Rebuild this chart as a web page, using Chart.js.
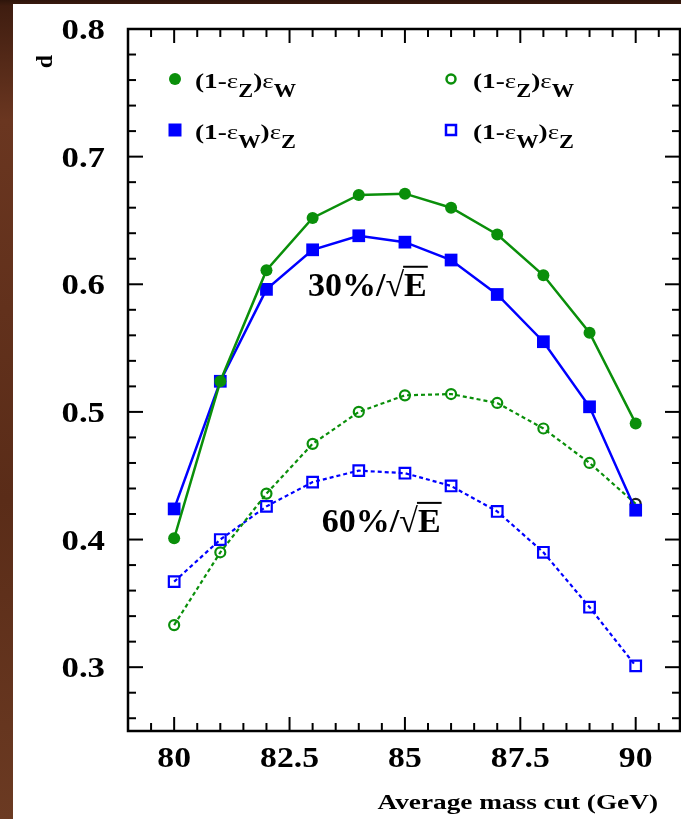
<!doctype html>
<html lang="en">
<head>
<meta charset="utf-8">
<title>d vs average mass cut</title>
<style>
  html, body { margin: 0; padding: 0; }
  body {
    width: 681px; height: 819px; position: relative; overflow: hidden;
    background: linear-gradient(to bottom, #2e150b 0px, #3f1d10 6px, #6a3620 120px, #5a2c18 500px, #6b3a22 819px);
  }
  #panel { position: absolute; left: 13px; top: 4px; right: 0; bottom: 0; background: #fff; }
  #chart { position: absolute; left: 0; top: 0; }
</style>
</head>
<body>
<div id="panel"></div>
<canvas id="chart" width="681" height="819"></canvas>

<script src="https://cdn.jsdelivr.net/npm/chart.js@4"></script>
<script>
  // mass cut points (GeV)
  const massCut = [80, 81, 82, 83, 84, 85, 86, 87, 88, 89, 90];

  // 30%/sqrt(E) resolution
  const d30_EzEw = [0.401, 0.524, 0.611, 0.652, 0.670, 0.671, 0.660, 0.639, 0.607, 0.562, 0.491];
  const d30_EwEz = [0.424, 0.524, 0.596, 0.627, 0.638, 0.633, 0.619, 0.592, 0.555, 0.504, 0.423];

  // 60%/sqrt(E) resolution
  const d60_EzEw = [0.333, 0.390, 0.436, 0.475, 0.500, 0.513, 0.514, 0.507, 0.487, 0.460, 0.428];
  const d60_EwEz = [0.367, 0.400, 0.426, 0.445, 0.454, 0.452, 0.442, 0.422, 0.390, 0.347, 0.301];

  const xTickValues = [80, 82.5, 85, 87.5, 90];
  const yTickValues = [0.3, 0.4, 0.5, 0.6, 0.7, 0.8];

  const GREEN = '#0a8f0a';
  const BLUE = '#0000ff';
  const SERIF = "'Liberation Serif', 'Times New Roman', serif";

  const pts = arr => massCut.map((m, i) => ({ x: m, y: arr[i] }));

  // text stretched horizontally like the old ROOT export
  function wideText(ctx, txt, x, y, align, sx) {
    ctx.save();
    ctx.translate(x, y);
    ctx.scale(sx, 1);
    ctx.textAlign = align;
    ctx.fillText(txt, 0, 0);
    ctx.restore();
  }

  // inward ticks on all four sides + frame, ROOT style
  const frameTicks = {
    id: 'frameTicks',
    afterDatasetsDraw(chart) {
      const { ctx, chartArea: a, scales: { x, y } } = chart;
      ctx.save();
      ctx.strokeStyle = '#000';
      ctx.lineWidth = 2;
      const seg = (x1, y1, x2, y2) => { ctx.beginPath(); ctx.moveTo(x1, y1); ctx.lineTo(x2, y2); ctx.stroke(); };
      for (let k = 0; k <= 23; k++) {
        const px = x.getPixelForValue(79 + k * 0.5);
        const len = (k - 2) % 5 === 0 ? 14 : 8;
        seg(px, a.bottom, px, a.bottom - len);
        seg(px, a.top, px, a.top + len);
      }
      for (let k = 13; k <= 40; k++) {
        const py = y.getPixelForValue(k * 0.02);
        const len = k % 5 === 0 ? 15 : 8;
        seg(a.left, py, a.left + len, py);
        seg(a.right, py, a.right - len, py);
      }
      ctx.lineWidth = 2.5;
      ctx.strokeRect(a.left, a.top, a.width, a.height);

      // tick labels
      ctx.fillStyle = '#000';
      ctx.textBaseline = 'alphabetic';
      ctx.font = 'bold 29px ' + SERIF;
      for (const v of xTickValues) {
        wideText(ctx, String(v), x.getPixelForValue(v), a.bottom + 36, 'center', 1.16);
      }
      for (const v of yTickValues) {
        wideText(ctx, v.toFixed(1), a.left - 23, y.getPixelForValue(v) + 10, 'right', 1.2);
      }
      ctx.restore();
    }
  };

  // writes "(1-ε_a)ε_b" with bold subscripts
  function drawRich(ctx, x, y, a, b) {
    const parts = [
      ['(1-', 'bold 22px ' + SERIF, 0],
      ['ε', '22px ' + SERIF, 0],
      [a, 'bold 18px ' + SERIF, 9],
      [')', 'bold 22px ' + SERIF, 0],
      ['ε', '22px ' + SERIF, 0],
      [b, 'bold 18px ' + SERIF, 9]
    ];
    ctx.save();
    ctx.translate(x, y);
    ctx.scale(1.24, 1);
    let cx = 0;
    for (const [t, f, dy] of parts) {
      ctx.font = f;
      ctx.fillText(t, cx, dy);
      cx += ctx.measureText(t).width;
    }
    ctx.restore();
  }

  function marker(ctx, style, filled, color, cx, cy, r) {
    ctx.beginPath();
    if (style === 'circle') ctx.arc(cx, cy, r, 0, Math.PI * 2);
    else ctx.rect(cx - r, cy - r, 2 * r, 2 * r);
    if (filled) { ctx.fillStyle = color; ctx.fill(); }
    else { ctx.strokeStyle = color; ctx.lineWidth = 2.5; ctx.stroke(); }
  }

  const legendAndText = {
    id: 'legendAndText',
    afterDraw(chart) {
      const { ctx, scales: { x, y } } = chart;
      ctx.save();
      ctx.fillStyle = '#000';
      ctx.textBaseline = 'alphabetic';
      ctx.textAlign = 'left';

      // legend, two columns
      marker(ctx, 'circle', true, GREEN, 175, 79, 6);
      marker(ctx, 'rect', true, BLUE, 175, 130, 6.5);
      marker(ctx, 'circle', false, GREEN, 451, 79, 4.5);
      marker(ctx, 'rect', false, BLUE, 451, 130, 5);
      ctx.fillStyle = '#000';
      drawRich(ctx, 195, 88, 'Z', 'W');
      drawRich(ctx, 195, 139, 'W', 'Z');
      drawRich(ctx, 473, 88, 'Z', 'W');
      drawRich(ctx, 473, 139, 'W', 'Z');

      // resolution labels
      const sqrtLabel = (txt, vx, vy) => {
        let px = x.getPixelForValue(vx);
        const py = y.getPixelForValue(vy);
        ctx.font = 'bold 34px ' + SERIF;
        ctx.fillText(txt, px, py);
        px += ctx.measureText(txt).width;
        ctx.fillText('√', px, py);
        px += ctx.measureText('√').width;
        const ew = ctx.measureText('E').width;
        ctx.fillText('E', px, py);
        ctx.lineWidth = 2;
        ctx.strokeStyle = '#000';
        ctx.beginPath();
        ctx.moveTo(px - 1, py - 29);
        ctx.lineTo(px + ew + 1, py - 29);
        ctx.stroke();
      };
      sqrtLabel('30%/', 82.9, 0.591);
      sqrtLabel('60%/', 83.2, 0.406);

      // axis titles
      ctx.font = 'bold 22px ' + SERIF;
      wideText(ctx, 'Average mass cut (GeV)', 658, 809, 'right', 1.24);
      ctx.save();
      ctx.translate(46, 55);
      ctx.rotate(-Math.PI / 2);
      ctx.textAlign = 'right';
      ctx.textBaseline = 'middle';
      ctx.font = 'bold 24px ' + SERIF;
      ctx.fillText('d', 0, 0);
      ctx.restore();
      ctx.restore();
    }
  };

  const fixBox = (w, h) => s => {
    if (w !== null) s.width = w;
    if (h !== null) s.height = h;
    s.paddingTop = s.paddingBottom = s.paddingLeft = s.paddingRight = 0;
  };

  new Chart(document.getElementById('chart'), {
    type: 'line',
    data: {
      datasets: [
        {
          label: '(1-εZ)εW 30%', data: pts(d30_EzEw),
          borderColor: GREEN, backgroundColor: GREEN, borderWidth: 2.5,
          pointStyle: 'circle', pointRadius: 6, pointBorderWidth: 0
        },
        {
          label: '(1-εW)εZ 30%', data: pts(d30_EwEz),
          borderColor: BLUE, backgroundColor: BLUE, borderWidth: 2.5,
          pointStyle: 'rect', pointRadius: 9, pointBorderWidth: 0
        },
        {
          label: '(1-εZ)εW 60%', data: pts(d60_EzEw),
          borderColor: GREEN, backgroundColor: 'rgba(0,0,0,0)', borderWidth: 2.2, borderDash: [4, 3],
          pointBorderColor: massCut.map((m, i) => i === massCut.length - 1 ? '#222' : GREEN),
          pointStyle: 'circle', pointRadius: 5, pointBorderWidth: 2.2
        },
        {
          label: '(1-εW)εZ 60%', data: pts(d60_EwEz),
          borderColor: BLUE, backgroundColor: 'rgba(0,0,0,0)', borderWidth: 2.2, borderDash: [4, 3],
          pointStyle: 'rect', pointRadius: 7.5, pointBorderWidth: 2.2
        }
      ]
    },
    options: {
      responsive: false,
      animation: false,
      events: [],
      layout: { autoPadding: false, padding: { top: 29, right: 1, left: 0, bottom: 0 } },
      plugins: { legend: { display: false }, tooltip: { enabled: false } },
      scales: {
        x: {
          type: 'linear', min: 79, max: 90.96,
          grid: { display: false, drawTicks: false },
          border: { display: false },
          ticks: { display: false },
          afterFit: fixBox(null, 88)
        },
        y: {
          type: 'linear', min: 0.25, max: 0.8,
          grid: { display: false, drawTicks: false },
          border: { display: false },
          ticks: { display: false },
          afterFit: fixBox(128, null)
        }
      }
    },
    plugins: [frameTicks, legendAndText]
  });
</script>
</body>
</html>
